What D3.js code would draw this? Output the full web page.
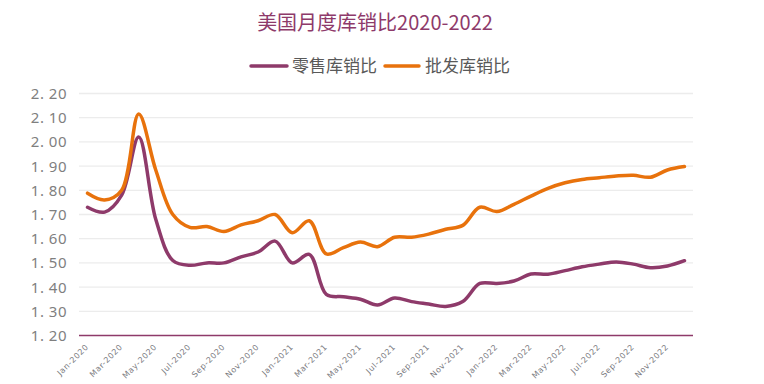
<!DOCTYPE html>
<html><head><meta charset="utf-8">
<script src="https://cdn.jsdelivr.net/npm/d3@7/dist/d3.min.js"></script>
<style>body{margin:0;background:#fff;}svg{display:block;}</style>
</head><body><svg id="c" width="764" height="384"></svg>
<script>
const months = ["Jan-2020","Feb-2020","Mar-2020","Apr-2020","May-2020","Jun-2020","Jul-2020","Aug-2020","Sep-2020","Oct-2020","Nov-2020","Dec-2020",
"Jan-2021","Feb-2021","Mar-2021","Apr-2021","May-2021","Jun-2021","Jul-2021","Aug-2021","Sep-2021","Oct-2021","Nov-2021","Dec-2021",
"Jan-2022","Feb-2022","Mar-2022","Apr-2022","May-2022","Jun-2022","Jul-2022","Aug-2022","Sep-2022","Oct-2022","Nov-2022","Dec-2022"];
const retail = [1.73,1.71,1.78,2.02,1.68,1.51,1.49,1.50,1.50,1.525,1.545,1.59,
1.50,1.535,1.37,1.36,1.35,1.326,1.355,1.34,1.33,1.32,1.34,1.415,
1.415,1.425,1.454,1.453,1.468,1.484,1.495,1.504,1.495,1.48,1.487,1.509];
const wholesale = [1.788,1.76,1.80,2.115,1.884,1.70,1.647,1.65,1.63,1.657,1.674,1.70,
1.625,1.674,1.537,1.563,1.586,1.567,1.606,1.606,1.619,1.639,1.655,1.73,
1.712,1.742,1.776,1.808,1.831,1.845,1.852,1.859,1.862,1.854,1.884,1.898];
const yTicks = [1.20,1.30,1.40,1.50,1.60,1.70,1.80,1.90,2.00,2.10,2.20];
const seriesNames = ["零售库销比","批发库销比"];
const colors = ["#8E3A6A","#E8720C"];
const title = "美国月度库销比2020-2022";

const svg = d3.select("#c");
const L=79, R=693, T=93.5, B=335.5;
const x = d3.scalePoint().domain(months).range([L,R]).padding(0.5);
const y = d3.scaleLinear().domain([1.2,2.2]).range([B,T]);

// grid
svg.append("g").selectAll("line").data(yTicks.slice(1)).join("line")
 .attr("x1",L).attr("x2",R).attr("y1",d=>y(d)).attr("y2",d=>y(d))
 .attr("stroke","#ececec").attr("stroke-width",1.3);

// y labels
svg.append("g").selectAll("text").data(yTicks).join("text")
 .attr("x",67).attr("y",d=>y(d)).attr("dy","0.36em").attr("text-anchor","end")
 .attr("font-family","Noto Sans, sans-serif").attr("font-size",15).attr("fill","#7f7f7f")
 .attr("letter-spacing","0.5")
 .text(d=>d3.format(".2f")(d).replace(".",". "));

// x axis line
svg.append("line").attr("x1",L).attr("x2",R).attr("y1",B).attr("y2",B)
 .attr("stroke","#8E3A6A").attr("stroke-width",1.5);

// x labels
svg.append("g").selectAll("text").data(months.filter((d,i)=>i%2===0)).join("text")
 .attr("transform",d=>`translate(${x(d)+1.5},${B+12}) rotate(-45)`)
 .attr("text-anchor","end").attr("font-family","DejaVu Sans, sans-serif").attr("font-size",8)
 .attr("fill","#7a7a80").attr("letter-spacing","0.6")
 .text(d=>d);

// lines
const line = d3.line().x((d,i)=>x(months[i])).y(d=>y(d)).curve(d3.curveCatmullRom.alpha(0.5));
[retail,wholesale].forEach((s,k)=>{
 svg.append("path").datum(s).attr("d",line).attr("fill","none")
  .attr("stroke",colors[k]).attr("stroke-width",3.5).attr("stroke-linecap","round").attr("stroke-linejoin","round");
});

// title
svg.append("text").attr("x",375).attr("y",30).attr("text-anchor","middle")
 .attr("font-family","Noto Sans CJK SC, sans-serif").attr("font-size",20).attr("fill","#8E3A6A").text(title);

// legend
const lg = [{x1:251,x2:287,tx:292},{x1:385,x2:419,tx:425}];
lg.forEach((p,k)=>{
 svg.append("line").attr("x1",p.x1).attr("x2",p.x2).attr("y1",66).attr("y2",66)
  .attr("stroke",colors[k]).attr("stroke-width",3.5).attr("stroke-linecap","round");
 svg.append("text").attr("x",p.tx).attr("y",66.5).attr("dy","0.35em")
  .attr("font-family","Noto Sans CJK SC, sans-serif").attr("font-size",17).attr("fill","#595959").text(seriesNames[k]);
});
</script></body></html>
